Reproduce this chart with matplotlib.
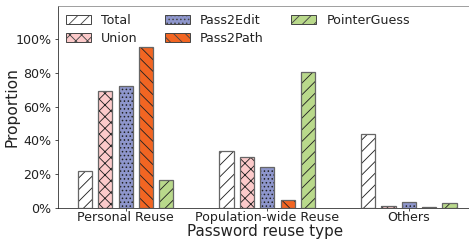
import matplotlib
matplotlib.use("Agg")
import matplotlib.pyplot as plt
import numpy as np
from matplotlib.ticker import PercentFormatter
from matplotlib.patches import Patch

categories = ["Personal Reuse", "Population-wide Reuse", "Others"]
series_names = ["Total", "Union", "Pass2Edit", "Pass2Path", "PointerGuess"]
total = [0.22, 0.34, 0.435]
union = [0.69, 0.30, 0.01]
pass2edit = [0.72, 0.24, 0.035]
pass2path = [0.95, 0.045, 0.005]
pointerguess = [0.165, 0.805, 0.03]
series_values = [total, union, pass2edit, pass2path, pointerguess]

colors = ["#ffffff", "#fccaca", "#8e96cc", "#f26522", "#b9d98b"]
hatches = ["//", "xx", "...", "\\\\", "//"]

plt.rcParams['hatch.linewidth'] = 0.9
plt.rcParams['hatch.color'] = '#222222'
fig = plt.figure(figsize=(469/70, 241/70), dpi=70)
ax = fig.add_axes([58/469, 33/241, (472-58)/469, 202/241])

x = np.arange(len(categories))
step = 0.1437
width = 0.1
for i, (name, vals) in enumerate(zip(series_names, series_values)):
    pos = x + (i - 2) * step
    ax.bar(pos, vals, width, color=colors[i], hatch=hatches[i],
           edgecolor='#222222', linewidth=0, label=name)
    ax.bar(pos, vals, width, fill=False, edgecolor='#666666', linewidth=1.3)

ax.set_xlim(-0.478, 2.446)
ax.set_ylim(0, 1.195)
ax.set_yticks([0, 0.2, 0.4, 0.6, 0.8, 1.0])
ax.yaxis.set_major_formatter(PercentFormatter(1.0, decimals=0))
ax.set_xticks(x)
ax.set_xticklabels(categories)
ax.tick_params(labelsize=13, colors='#222222', length=3)
ax.tick_params(axis='x', pad=0.5)
ax.set_ylabel("Proportion", fontsize=16, color='#222222', labelpad=-4)
ax.set_xlabel("Password reuse type", fontsize=15.5, color='#222222', labelpad=0)
ax.spines['right'].set_visible(False)
ax.spines['top'].set_color('#888888')
ax.spines['left'].set_color('#222222')
ax.spines['bottom'].set_color('#222222')

handles = [Patch(facecolor=colors[i], hatch=hatches[i], edgecolor='#444444', linewidth=1.0)
           for i in range(5)]
ax.legend(handles, series_names, ncol=3, loc='upper left', frameon=False,
          fontsize=13, handlelength=2.0, handleheight=0.7, columnspacing=2.15,
          labelspacing=0.45, borderaxespad=0.2, handletextpad=0.8, labelcolor='#222222')

fig.savefig("out.png", dpi=70)
